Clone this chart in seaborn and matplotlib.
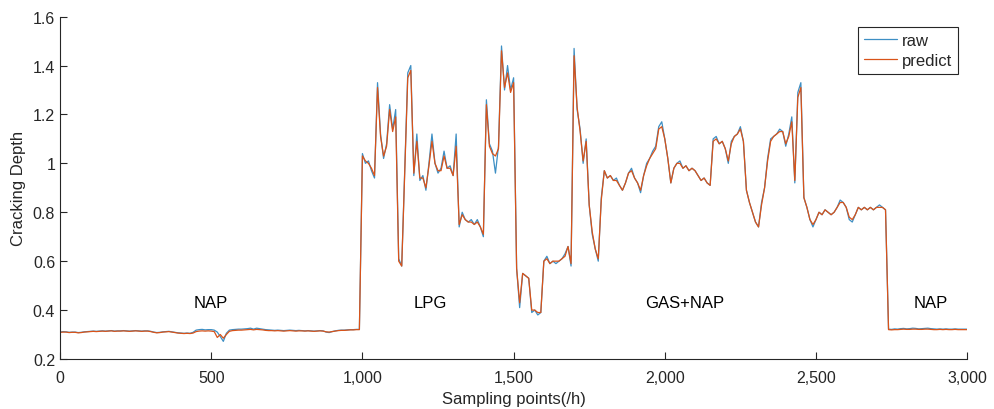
"""
Cracking depth: raw vs predicted values over sampling points.
"""

import numpy as np
import pandas as pd
import matplotlib
matplotlib.use("Agg")
import matplotlib.pyplot as plt
from matplotlib.ticker import FuncFormatter
import seaborn as sns

# sampling points, one value every 10 h
sampling_points = np.arange(0, 3001, 10)

raw = [
    0.310, 0.312, 0.311, 0.309, 0.310, 0.310, 0.308, 0.309, 0.311, 0.312,
    0.313, 0.314, 0.313, 0.314, 0.315, 0.314, 0.315, 0.316, 0.314, 0.315,
    0.315, 0.316, 0.315, 0.314, 0.315, 0.316, 0.315, 0.314, 0.315, 0.315,
    0.313, 0.310, 0.308, 0.309, 0.311, 0.312, 0.313, 0.311, 0.309, 0.307,
    0.306, 0.305, 0.306, 0.305, 0.309, 0.318, 0.320, 0.321, 0.319, 0.320,
    0.320, 0.318, 0.310, 0.292, 0.272, 0.305, 0.318, 0.320, 0.321, 0.322,
    0.322, 0.323, 0.324, 0.326, 0.322, 0.326, 0.324, 0.322, 0.320, 0.319,
    0.318, 0.317, 0.318, 0.317, 0.316, 0.317, 0.318, 0.317, 0.316, 0.317,
    0.316, 0.315, 0.316, 0.315, 0.314, 0.315, 0.316, 0.315, 0.310, 0.308,
    0.312, 0.315, 0.317, 0.318, 0.318, 0.319, 0.320, 0.320, 0.321, 0.321,
    1.04, 1.00, 1.01, 0.97, 0.94, 1.33, 1.12, 1.02, 1.08, 1.24,
    1.14, 1.22, 0.61, 0.58, 0.97, 1.37, 1.40, 0.95, 1.12, 0.93,
    0.95, 0.89, 1.00, 1.12, 1.00, 0.96, 0.98, 1.05, 0.98, 0.99,
    0.95, 1.12, 0.74, 0.80, 0.77, 0.76, 0.77, 0.75, 0.77, 0.74,
    0.70, 1.26, 1.08, 1.05, 0.96, 1.07, 1.48, 1.30, 1.40, 1.30,
    1.35, 0.57, 0.41, 0.55, 0.54, 0.53, 0.39, 0.40, 0.38, 0.39,
    0.60, 0.62, 0.59, 0.60, 0.59, 0.60, 0.61, 0.63, 0.66, 0.58,
    1.47, 1.22, 1.14, 1.00, 1.10, 0.83, 0.71, 0.65, 0.60, 0.86,
    0.97, 0.94, 0.95, 0.93, 0.94, 0.91, 0.89, 0.92, 0.96, 0.98,
    0.94, 0.92, 0.88, 0.95, 1.00, 1.02, 1.05, 1.07, 1.15, 1.17,
    1.10, 1.02, 0.92, 0.98, 1.00, 1.01, 0.98, 0.99, 0.97, 0.98,
    0.97, 0.95, 0.93, 0.94, 0.92, 0.91, 1.10, 1.11, 1.08, 1.09,
    1.06, 1.00, 1.09, 1.11, 1.12, 1.15, 1.09, 0.89, 0.84, 0.80,
    0.76, 0.74, 0.84, 0.90, 1.02, 1.10, 1.11, 1.12, 1.14, 1.13,
    1.07, 1.12, 1.19, 0.92, 1.29, 1.33, 0.86, 0.82, 0.77, 0.74,
    0.77, 0.80, 0.79, 0.81, 0.80, 0.79, 0.80, 0.82, 0.85, 0.84,
    0.82, 0.77, 0.76, 0.79, 0.82, 0.81, 0.82, 0.81, 0.82, 0.81,
    0.82, 0.83, 0.82, 0.81, 0.322, 0.321, 0.323, 0.322, 0.324, 0.325,
    0.323, 0.324, 0.326, 0.325, 0.323, 0.324, 0.325, 0.326, 0.324, 0.323,
    0.322, 0.323, 0.322, 0.323, 0.322, 0.322, 0.323, 0.322, 0.322, 0.322,
    0.322,
]

predict = [
    0.309, 0.310, 0.310, 0.308, 0.309, 0.309, 0.307, 0.308, 0.310, 0.311,
    0.312, 0.313, 0.312, 0.313, 0.314, 0.313, 0.314, 0.315, 0.313, 0.314,
    0.314, 0.315, 0.314, 0.313, 0.314, 0.315, 0.314, 0.313, 0.314, 0.314,
    0.312, 0.309, 0.307, 0.308, 0.310, 0.311, 0.312, 0.310, 0.308, 0.306,
    0.305, 0.304, 0.305, 0.304, 0.306, 0.312, 0.314, 0.315, 0.314, 0.315,
    0.314, 0.312, 0.288, 0.300, 0.285, 0.300, 0.313, 0.316, 0.317, 0.318,
    0.318, 0.319, 0.320, 0.321, 0.319, 0.321, 0.320, 0.319, 0.317, 0.316,
    0.316, 0.315, 0.316, 0.315, 0.314, 0.315, 0.316, 0.315, 0.314, 0.315,
    0.315, 0.314, 0.315, 0.314, 0.313, 0.314, 0.315, 0.314, 0.311, 0.310,
    0.312, 0.314, 0.316, 0.317, 0.317, 0.318, 0.319, 0.319, 0.320, 0.320,
    1.03, 1.01, 1.00, 0.98, 0.95, 1.31, 1.11, 1.03, 1.07, 1.22,
    1.13, 1.19, 0.60, 0.58, 0.96, 1.35, 1.38, 0.96, 1.09, 0.94,
    0.94, 0.90, 0.99, 1.09, 1.00, 0.97, 0.97, 1.03, 0.98, 0.98,
    0.95, 1.07, 0.75, 0.79, 0.77, 0.76, 0.76, 0.75, 0.76, 0.74,
    0.71, 1.24, 1.07, 1.04, 1.03, 1.06, 1.46, 1.31, 1.37, 1.29,
    1.33, 0.57, 0.43, 0.55, 0.54, 0.53, 0.40, 0.40, 0.39, 0.39,
    0.60, 0.61, 0.59, 0.60, 0.60, 0.60, 0.61, 0.62, 0.66, 0.59,
    1.44, 1.23, 1.13, 1.01, 1.09, 0.83, 0.72, 0.65, 0.61, 0.85,
    0.97, 0.94, 0.95, 0.93, 0.93, 0.91, 0.89, 0.92, 0.96, 0.97,
    0.94, 0.92, 0.89, 0.95, 0.99, 1.02, 1.04, 1.06, 1.14, 1.15,
    1.10, 1.02, 0.92, 0.98, 1.00, 1.00, 0.98, 0.99, 0.97, 0.98,
    0.97, 0.95, 0.93, 0.94, 0.92, 0.91, 1.09, 1.10, 1.08, 1.09,
    1.06, 1.01, 1.08, 1.11, 1.12, 1.14, 1.09, 0.89, 0.84, 0.80,
    0.76, 0.74, 0.83, 0.90, 1.01, 1.09, 1.11, 1.12, 1.13, 1.13,
    1.08, 1.11, 1.17, 0.93, 1.27, 1.31, 0.86, 0.82, 0.77, 0.75,
    0.77, 0.80, 0.79, 0.81, 0.80, 0.79, 0.80, 0.82, 0.84, 0.84,
    0.82, 0.78, 0.77, 0.79, 0.82, 0.81, 0.82, 0.81, 0.82, 0.81,
    0.82, 0.82, 0.82, 0.81, 0.320, 0.319, 0.320, 0.320, 0.321, 0.322,
    0.321, 0.321, 0.322, 0.322, 0.321, 0.321, 0.322, 0.322, 0.321, 0.320,
    0.320, 0.321, 0.320, 0.321, 0.320, 0.320, 0.321, 0.320, 0.320, 0.320,
    0.320,
]

# feed stock regions
region_labels = ["NAP", "LPG", "GAS+NAP", "NAP"]
region_x = [500, 1225, 2065, 2880]
region_y = 0.43

x_ticks = [0, 500, 1000, 1500, 2000, 2500, 3000]
y_ticks = [0.2, 0.4, 0.6, 0.8, 1.0, 1.2, 1.4, 1.6]


def main():
    sns.set_theme(style="ticks")
    plt.rcParams["font.family"] = ["Liberation Sans", "DejaVu Sans"]

    df = pd.DataFrame({
        "Sampling points(/h)": np.concatenate([sampling_points, sampling_points]),
        "Cracking Depth": np.concatenate([raw, predict]),
        "series": ["raw"] * len(raw) + ["predict"] * len(predict),
    })

    fig = plt.figure(figsize=(9.94, 4.10), dpi=100)
    ax = fig.add_axes([0.0604, 0.122, 0.9126, 0.835])

    sns.lineplot(data=df, x="Sampling points(/h)", y="Cracking Depth",
                 hue="series", palette={"raw": "#3d8fc4", "predict": "#d95319"},
                 estimator=None, linewidth=0.9, ax=ax)

    for label, xpos in zip(region_labels, region_x):
        ax.text(xpos, region_y, label, ha="center", va="center", fontsize=12,
                color="black")

    ax.set_xlim(0, 3000)
    ax.set_ylim(0.2, 1.6)
    ax.set_xticks(x_ticks)
    ax.set_yticks(y_ticks)
    ax.xaxis.set_major_formatter(FuncFormatter(lambda v, p: f"{int(v):,}"))
    ax.yaxis.set_major_formatter(FuncFormatter(lambda v, p: f"{v:g}"))
    ax.tick_params(direction="in", length=5, width=0.8, colors="#262626",
                   labelsize=11.5, labelcolor="#262626")
    ax.tick_params(axis="x", pad=8)
    ax.set_xlabel("Sampling points(/h)", fontsize=12, color="#262626", labelpad=4)
    ax.set_ylabel("Cracking Depth", fontsize=12, color="#262626", labelpad=5)
    sns.despine(ax=ax)
    for side in ["left", "bottom"]:
        ax.spines[side].set_color("#262626")
        ax.spines[side].set_linewidth(0.8)

    leg = ax.legend(loc="upper right", bbox_to_anchor=(0.99, 0.97), fontsize=12,
                    frameon=True, fancybox=False, framealpha=1, edgecolor="#262626",
                    handlelength=2.0, handletextpad=0.3, borderpad=0.35,
                    labelspacing=0.3, borderaxespad=0)
    leg.get_frame().set_linewidth(0.8)

    fig.savefig("out.png", dpi=100)
    plt.close(fig)


if __name__ == "__main__":
    main()
